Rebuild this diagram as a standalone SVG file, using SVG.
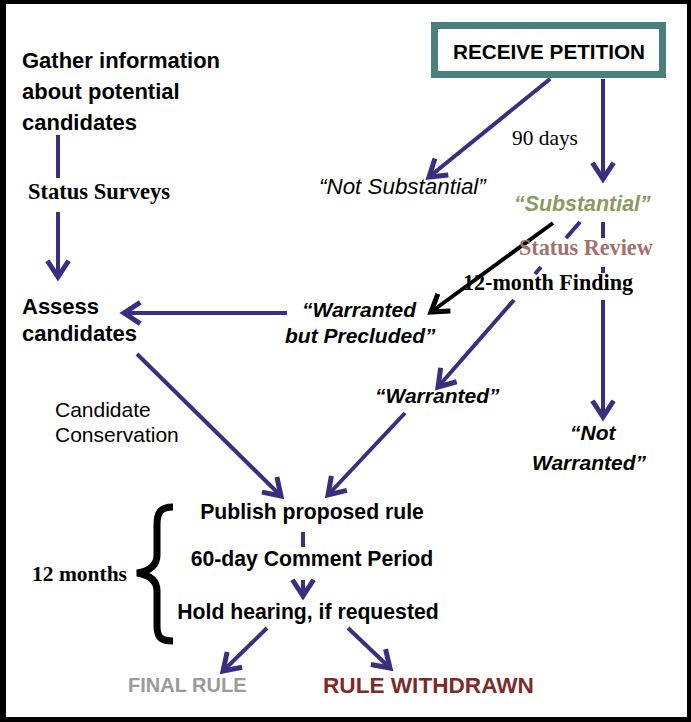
<svg xmlns="http://www.w3.org/2000/svg" width="691" height="722" viewBox="0 0 691 722">
<defs>
<style>
.ln{fill:none;stroke:#3b2e7e;stroke-width:4}
.bk{fill:none;stroke:#000;stroke-width:4}
.sans{font-family:"Liberation Sans",Arial,sans-serif}
.serif{font-family:"Liberation Serif","Times New Roman",serif}
.b{font-weight:bold}
.i{font-style:italic}
</style>
<marker id="ah" markerUnits="userSpaceOnUse" markerWidth="30" markerHeight="30" refX="0" refY="0" viewBox="-16 -12 20 24" orient="auto" overflow="visible">
<path d="M-13,-8.5 L0,0 L-13,8.5" fill="none" stroke="#3b2e7e" stroke-width="4"/>
</marker>
<marker id="ahk" markerUnits="userSpaceOnUse" markerWidth="30" markerHeight="30" refX="0" refY="0" viewBox="-16 -12 20 24" orient="auto" overflow="visible">
<path d="M-13,-8.5 L0,0 L-13,8.5" fill="none" stroke="#000" stroke-width="4"/>
</marker>
</defs>
<rect x="0" y="0" width="691" height="722" fill="#000"/>
<rect x="6" y="4" width="681" height="713" fill="#fff"/>

<g id="connectors">
<path class="ln" d="M550,79 L429,177" marker-end="url(#ah)"/>
<path class="ln" d="M603,79 V179" marker-end="url(#ah)"/>
<path class="ln" d="M580,222 L566,238 M541,267 L535,274 M514,300 L438,387" marker-end="url(#ah)"/>
<path class="ln" d="M603,222 V238 M603,267 V273 M603,300 V417" marker-end="url(#ah)"/>
<path class="bk" d="M553,223 L431,312" marker-end="url(#ahk)"/>
<path class="ln" d="M287,313 H124" marker-end="url(#ah)"/>
<path class="ln" d="M58,135 V178 M58,212 V277" marker-end="url(#ah)"/>
<path class="ln" d="M137,354 L281,496" marker-end="url(#ah)"/>
<path class="ln" d="M405,413 L328,495" marker-end="url(#ah)"/>
<path class="ln" d="M303,532 V547"/>
<path class="ln" d="M303,580 V596" marker-end="url(#ah)"/>
<path class="ln" d="M267,628 L223,671" marker-end="url(#ah)"/>
<path class="ln" d="M348,628 L390,668" marker-end="url(#ah)"/>
</g>

<g id="receive-petition">
<rect x="434.5" y="25.5" width="228" height="49" fill="#fff" stroke="#4b7f7e" stroke-width="7"/>
<text class="sans b" x="549" y="58.5" font-size="20.7" text-anchor="middle">RECEIVE PETITION</text>
</g>
<g id="gather">
<text class="sans b" font-size="22" x="22" y="68">Gather information</text>
<text class="sans b" font-size="22" x="22" y="99">about potential</text>
<text class="sans b" font-size="22" x="22" y="130">candidates</text>
</g>
<g id="status-surveys"><text class="serif b" font-size="22.5" x="28" y="199">Status Surveys</text></g>
<g id="assess">
<text class="sans b" font-size="22" x="22" y="314">Assess</text>
<text class="sans b" font-size="22" x="22" y="341">candidates</text>
</g>
<g id="candidate-conservation">
<text class="sans" font-size="21" x="55" y="417">Candidate</text>
<text class="sans" font-size="21" x="55" y="442">Conservation</text>
</g>
<g id="ninety-days"><text class="serif" font-size="21.4" x="512" y="145">90 days</text></g>
<g id="not-substantial"><text class="sans i" font-size="22.4" x="319" y="194">“Not Substantial”</text></g>
<g id="substantial"><text class="sans b i" font-size="21.4" x="514" y="211" fill="#8b9a5e">“Substantial”</text></g>
<g id="status-review"><text class="serif b" font-size="22.2" x="519" y="255" fill="#a4706e">Status Review</text></g>
<g id="twelve-month"><text class="serif b" font-size="22.1" x="463" y="290">12-month Finding</text></g>
<g id="warranted-precluded">
<text class="sans b i" font-size="21" x="302" y="317">“Warranted</text>
<text class="sans b i" font-size="21" x="285" y="343">but Precluded”</text>
</g>
<g id="warranted"><text class="sans b i" font-size="21" x="375" y="403">“Warranted”</text></g>
<g id="not-warranted">
<text class="sans b i" font-size="21" x="570" y="440">“Not</text>
<text class="sans b i" font-size="21" x="532" y="470">Warranted”</text>
</g>
<g id="publish"><text class="sans b" font-size="21.2" x="312" y="519" text-anchor="middle">Publish proposed rule</text></g>
<g id="comment"><text class="sans b" font-size="21.2" x="312" y="566" text-anchor="middle">60-day Comment Period</text></g>
<g id="hearing"><text class="sans b" font-size="21.2" x="308" y="619" text-anchor="middle">Hold hearing, if requested</text></g>
<g id="twelve-months">
<text class="serif b" font-size="21.5" x="32" y="581">12 months</text>
<path d="M173,507 C160,507 157,513 157,525 L157,555 C157,565 150,571 137,573 C150,575 157,581 157,591 L157,625 C157,637 160,641 173,641" fill="none" stroke="#000" stroke-width="7"/>
</g>
<g id="final-rule"><text class="sans b" font-size="20" x="128" y="692" fill="#9a9a9a">FINAL RULE</text></g>
<g id="rule-withdrawn"><text class="sans b" font-size="22.6" x="323" y="693" fill="#7b2b2a">RULE WITHDRAWN</text></g>
</svg>
